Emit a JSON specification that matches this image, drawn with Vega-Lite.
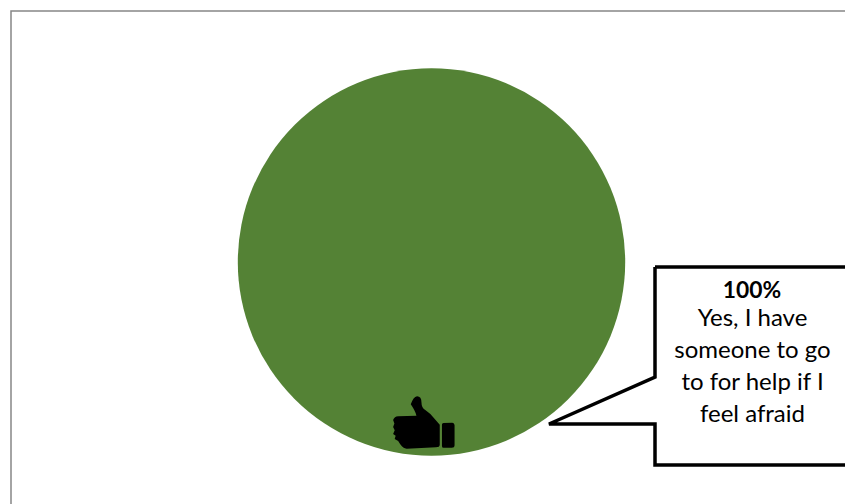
{
  "$schema": "https://vega.github.io/schema/vega-lite/v6.json",
  "width": 845,
  "height": 504,
  "padding": 0,
  "autosize": {"type": "none"},
  "background": "white",
  "view": {"stroke": null},
  "datasets": {
    "pie": [{"answer": "Yes, I have someone to go to for help if I feel afraid", "percent": 100}],
    "frame": [
      {"step": 1, "gx": 11, "gy": 504},
      {"step": 2, "gx": 11, "gy": 11},
      {"step": 3, "gx": 845, "gy": 11}
    ],
    "callout": [
      {"step": 1, "gx": 655, "gy": 267},
      {"step": 2, "gx": 860, "gy": 267},
      {"step": 3, "gx": 860, "gy": 465},
      {"step": 4, "gx": 655, "gy": 465},
      {"step": 5, "gx": 655, "gy": 424},
      {"step": 6, "gx": 549, "gy": 424},
      {"step": 7, "gx": 655, "gy": 377},
      {"step": 8, "gx": 655, "gy": 267}
    ]
  },
  "layer": [
    {
      "data": {"name": "frame"},
      "mark": {"type": "line", "stroke": "#868686", "strokeWidth": 1.5, "clip": true},
      "encoding": {
        "x": {"field": "gx", "type": "quantitative", "scale": {"domain": [0, 845], "nice": false, "zero": false}, "axis": null},
        "y": {"field": "gy", "type": "quantitative", "scale": {"domain": [504, 0], "nice": false, "zero": false}, "axis": null},
        "order": {"field": "step", "type": "ordinal"}
      }
    },
    {
      "data": {"name": "pie"},
      "mark": {"type": "arc", "radius": 193.7, "fill": "#548235"},
      "encoding": {
        "theta": {"field": "percent", "type": "quantitative"},
        "x": {"datum": 431.5, "type": "quantitative"},
        "y": {"datum": 262, "type": "quantitative"}
      }
    },
    {
      "data": {"name": "pie"},
      "mark": {
        "type": "point",
        "filled": true,
        "fill": "#000000",
        "opacity": 1,
        "size": 3970,
        "shape": "M-0.42,-0.56 Q-0.34,-0.80 -0.22,-0.82 Q-0.08,-0.82 -0.08,-0.62 Q-0.08,-0.45 0.04,-0.38 Q0.22,-0.26 0.32,-0.12 L0.50,0.09 L0.50,0.72 Q0.50,0.80 0.38,0.80 L-0.55,0.85 Q-0.66,0.84 -0.76,0.70 L-0.82,0.60 L-0.93,0.54 L-0.90,0.44 L-0.98,0.38 L-0.93,0.26 L-0.98,0.16 L-0.94,0.05 L-0.98,-0.06 Q-0.94,-0.18 -0.82,-0.18 L-0.24,-0.20 Q-0.28,-0.36 -0.42,-0.56 Z M0.57,0.08 Q0.57,0.03 0.62,0.03 L0.90,0.02 Q0.97,0.02 0.97,0.10 L0.97,0.74 Q0.97,0.82 0.88,0.82 L0.62,0.82 Q0.57,0.82 0.57,0.76 Z"
      },
      "encoding": {
        "x": {"datum": 424, "type": "quantitative"},
        "y": {"datum": 422, "type": "quantitative"}
      }
    },
    {
      "data": {"name": "callout"},
      "mark": {"type": "line", "stroke": "#000000", "strokeWidth": 3.5, "strokeJoin": "miter", "clip": true},
      "encoding": {
        "x": {"field": "gx", "type": "quantitative"},
        "y": {"field": "gy", "type": "quantitative"},
        "order": {"field": "step", "type": "ordinal"}
      }
    },
    {
      "data": {"values": [{"label": "100%"}]},
      "mark": {"type": "text", "font": "Lato", "fontSize": 22.8, "fontWeight": "bold", "color": "#000000", "align": "center", "baseline": "middle"},
      "encoding": {
        "text": {"field": "label"},
        "x": {"datum": 752, "type": "quantitative"},
        "y": {"datum": 291, "type": "quantitative"}
      }
    },
    {
      "data": {"values": [{"label": "Yes, I have\nsomeone to go\nto for help if I\nfeel afraid"}]},
      "mark": {"type": "text", "font": "Lato", "fontSize": 24, "lineBreak": "\n", "lineHeight": 32, "color": "#000000", "align": "center", "baseline": "top"},
      "encoding": {
        "text": {"field": "label"},
        "x": {"datum": 752.5, "type": "quantitative"},
        "y": {"datum": 307, "type": "quantitative"}
      }
    }
  ]
}
